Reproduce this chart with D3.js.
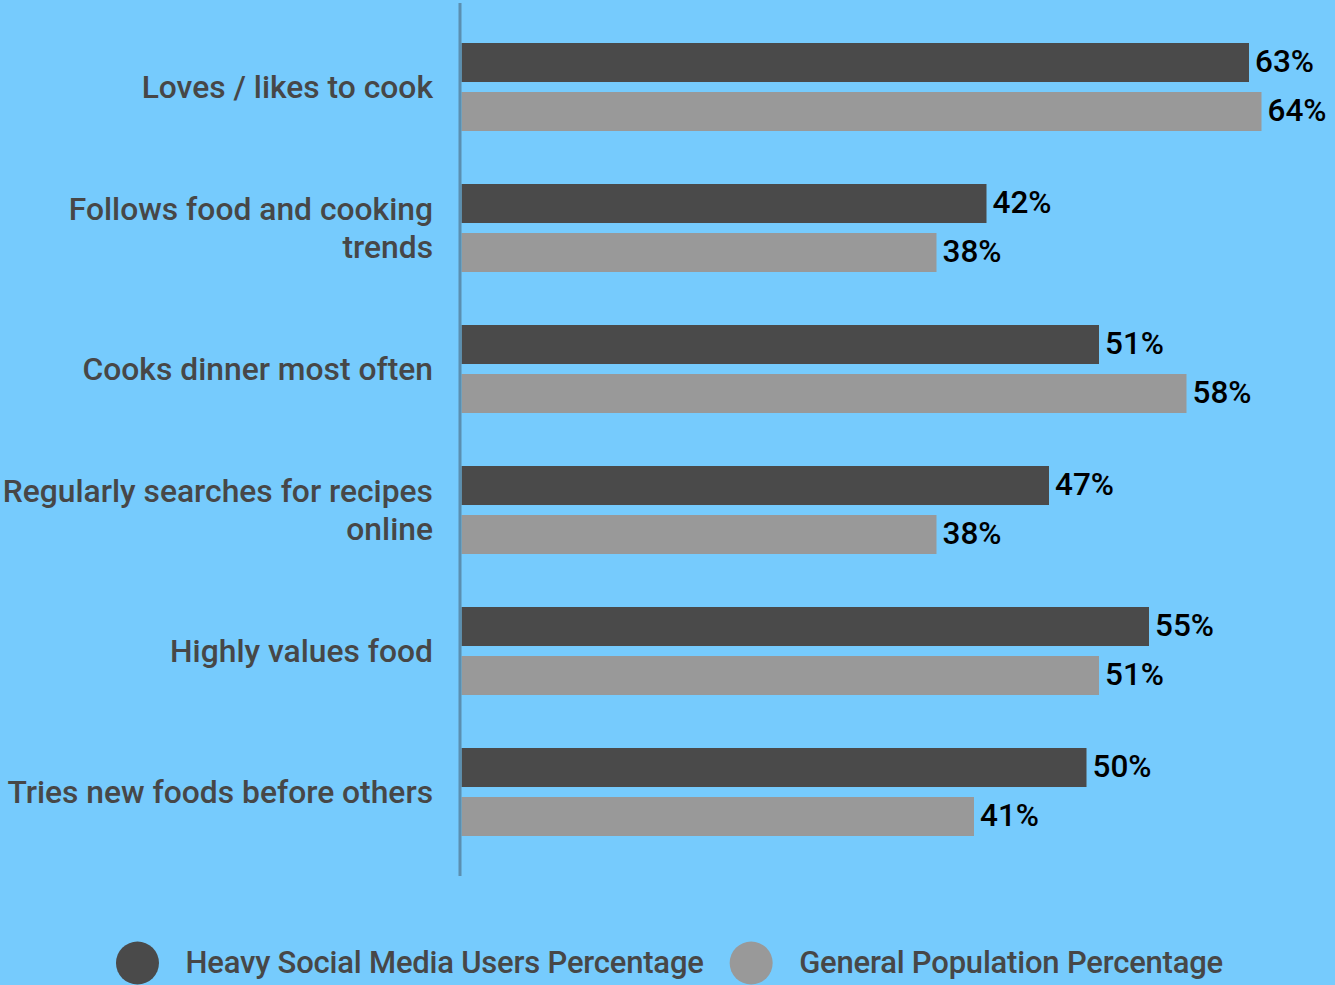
<!DOCTYPE html>
<html>
<head>
<meta charset="utf-8">
<script src="https://cdn.jsdelivr.net/npm/d3@7"></script>
<style>
  html, body { margin: 0; padding: 0; background: #76cbfd; }
  svg { display: block; font-family: Roboto, "Noto Sans", sans-serif; }
</style>
</head>
<body>
<svg id="chart" width="1335" height="985"></svg>
<script>
// Survey attributes: heavy social media users vs. general population
const categories = [
  "Loves / likes to cook",
  "Follows food and cooking trends",
  "Cooks dinner most often",
  "Regularly searches for recipes online",
  "Highly values food",
  "Tries new foods before others"
];
// Label line breaks for the category axis
const categoryLines = [
  ["Loves / likes to cook"],
  ["Follows food and cooking", "trends"],
  ["Cooks dinner most often"],
  ["Regularly searches for recipes", "online"],
  ["Highly values food"],
  ["Tries new foods before others"]
];
const seriesNames = ["Heavy Social Media Users Percentage", "General Population Percentage"];
const heavyUsers = [63, 42, 51, 47, 55, 50];
const generalPopulation = [64, 38, 58, 38, 51, 41];
const seriesColors = ["#4a4a4a", "#999999"];

const svg = d3.select("#chart");
const W = 1335, H = 985;
svg.append("rect").attr("width", W).attr("height", H).attr("fill", "#76cbfd");

const x = d3.scaleLinear().domain([0, 70]).range([461.5, 1336.5]);
const y = d3.scaleBand().domain(categories).range([16.5, 862.5])
  .paddingInner(0.376).paddingOuter(0.188);
const ySub = d3.scaleBand().domain(seriesNames).range([0, y.bandwidth()]).paddingInner(0.204);

const rows = categories.map((c, i) => ({
  cat: c, lines: categoryLines[i],
  values: [heavyUsers[i], generalPopulation[i]]
}));

// Bars
const groups = svg.append("g").selectAll("g").data(rows).join("g")
  .attr("transform", d => `translate(0,${y(d.cat)})`);

groups.selectAll("rect").data(d => d.values.map((v, j) => ({ v, s: seriesNames[j], j })))
  .join("rect")
  .attr("x", x(0))
  .attr("y", d => ySub(d.s))
  .attr("width", d => x(d.v) - x(0))
  .attr("height", ySub.bandwidth())
  .attr("fill", d => seriesColors[d.j]);

// Value labels
groups.selectAll("text.val").data(d => d.values.map((v, j) => ({ v, s: seriesNames[j], j })))
  .join("text").attr("class", "val")
  .attr("x", d => x(d.v) + 6)
  .attr("y", d => ySub(d.s) + ySub.bandwidth() / 2 + 10)
  .attr("font-size", 31.5).attr("font-weight", 500).attr("fill", "#000")
  .text(d => d.v + "%");

// Category labels
const lineH = 37.3;
const cat = svg.append("g").selectAll("text").data(rows).join("text")
  .attr("text-anchor", "end")
  .attr("font-size", 31.8).attr("font-weight", 500).attr("fill", "#474747");
cat.each(function(d) {
  const cy = y(d.cat) + y.bandwidth() / 2;
  const n = d.lines.length;
  d3.select(this).selectAll("tspan").data(d.lines).join("tspan")
    .attr("x", 433)
    .attr("y", (l, k) => cy + 11 + (k - (n - 1) / 2) * lineH)
    .text(l => l);
});

// Axis line
svg.append("line")
  .attr("x1", 460).attr("x2", 460).attr("y1", 3).attr("y2", 876)
  .attr("stroke", "#5b8fb0").attr("stroke-width", 3);

// Legend, centred along the bottom
const legend = svg.append("g");
const r = 21.5, gapText = 26.5, gapItem = 26;
const items = legend.selectAll("g").data(seriesNames).join("g");
items.append("circle").attr("r", r).attr("cy", 963).attr("fill", (d, i) => seriesColors[i]);
items.append("text").attr("x", r + gapText).attr("y", 973)
  .attr("font-size", 31).attr("font-weight", 500).attr("fill", "#474747")
  .attr("letter-spacing", -0.2)
  .text(d => d);
const widths = [];
items.each(function() {
  const t = d3.select(this).select("text").node().getComputedTextLength();
  widths.push(2 * r + gapText + t);
});
const total = d3.sum(widths) + gapItem * (widths.length - 1);
let start = W / 2 + 2 - total / 2;
items.each(function(d, i) {
  d3.select(this).attr("transform", `translate(${start + r},0)`);
  start += widths[i] + gapItem;
});
</script>
</body>
</html>
